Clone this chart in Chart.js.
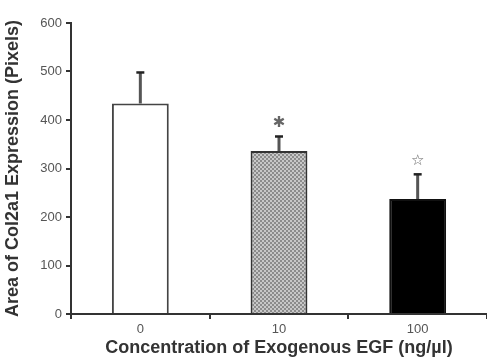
<!DOCTYPE html>
<html>
<head>
<meta charset="utf-8">
<script src="https://cdn.jsdelivr.net/npm/chart.js@4/dist/chart.umd.min.js"></script>
<style>
    html, body { margin: 0; padding: 0; background: #ffffff; }
    #wrap { width: 487px; height: 359px; }
</style>
</head>
<body>
<div id="wrap"><canvas id="chart"></canvas></div>
<script>
const categories = ['0', '10', '100'];
const meanValues = [434, 336, 237];
const errorValues = [64, 30, 51];
const markers = ['', '✱', '☆'];
const yTicks = [0, 100, 200, 300, 400, 500, 600];

// small grey checker used for the 10 ng/µl bar
function checker() {
    const c = document.createElement('canvas');
    c.width = 4;
    c.height = 4;
    const g = c.getContext('2d');
    g.fillStyle = '#c8c8c8';
    g.fillRect(0, 0, 4, 4);
    g.fillStyle = '#8c8c8c';
    g.fillRect(0, 0, 2, 2);
    g.fillRect(2, 2, 2, 2);
    return g.createPattern(c, 'repeat');
}

const errorBars = {
    id: 'errorBars',
    afterDatasetsDraw(chart) {
        const ctx = chart.ctx;
        const y = chart.scales.y;
        const meta = chart.getDatasetMeta(0);
        ctx.save();
        meta.data.forEach((bar, i) => {
            const top = y.getPixelForValue(meanValues[i] + errorValues[i]);
            const base = y.getPixelForValue(meanValues[i]);
            ctx.strokeStyle = '#555555';
            ctx.lineWidth = 3;
            ctx.beginPath();
            ctx.moveTo(bar.x, base);
            ctx.lineTo(bar.x, top);
            ctx.stroke();
            ctx.strokeStyle = '#222222';
            ctx.lineWidth = 2.5;
            ctx.beginPath();
            ctx.moveTo(bar.x - 4, top);
            ctx.lineTo(bar.x + 4, top);
            ctx.stroke();
            if (markers[i]) {
                ctx.fillStyle = '#666666';
                ctx.font = 'bold 15px "DejaVu Sans"';
                ctx.textAlign = 'center';
                ctx.textBaseline = 'middle';
                ctx.fillText(markers[i], bar.x, top - 13);
            }
        });
        ctx.restore();
    },
};

new Chart(document.getElementById('chart'), {
    type: 'bar',
    data: {
        labels: categories,
        datasets: [
            {
                data: meanValues,
                backgroundColor: ['#ffffff', checker(), '#000000'],
                borderColor: ['#444444', '#333333', '#111111'],
                borderWidth: 2,
                borderSkipped: 'bottom',
                barPercentage: 0.41,
                categoryPercentage: 1,
            },
        ],
    },
    options: {
        responsive: true,
        maintainAspectRatio: false,
        animation: false,
        layout: {
            padding: { top: 23, right: 0, bottom: 0, left: 0 },
        },
        plugins: {
            legend: { display: false },
            tooltip: { enabled: false },
        },
        scales: {
            x: {
                grid: {
                    drawOnChartArea: false,
                    tickLength: 5,
                    tickColor: '#333333',
                    lineWidth: 2,
                },
                border: { color: '#333333', width: 2 },
                ticks: {
                    color: '#555555',
                    padding: 3,
                    font: { family: 'Liberation Sans', size: 13 },
                },
                title: {
                    display: true,
                    text: 'Concentration of Exogenous EGF (ng/µl)',
                    color: '#333333',
                    padding: { top: 0, bottom: 0 },
                    font: { family: 'Liberation Sans', size: 18, weight: 'bold' },
                },
                afterFit: (scale) => { scale.height = 45; },
            },
            y: {
                min: 0,
                max: 600,
                afterBuildTicks: (scale) => {
                    scale.ticks = yTicks.map((v) => ({ value: v }));
                },
                grid: {
                    drawOnChartArea: false,
                    tickLength: 5,
                    tickColor: '#333333',
                    lineWidth: 2,
                },
                border: { color: '#333333', width: 2 },
                ticks: {
                    color: '#555555',
                    padding: 4,
                    font: { family: 'Liberation Sans', size: 13 },
                },
                title: {
                    display: true,
                    text: 'Area of Col2a1 Expression (Pixels)',
                    color: '#333333',
                    padding: { top: 2, bottom: 0 },
                    font: { family: 'Liberation Sans', size: 18, weight: 'bold' },
                },
                afterFit: (scale) => { scale.width = 71; },
            },
        },
    },
    plugins: [errorBars],
});
</script>
</body>
</html>
